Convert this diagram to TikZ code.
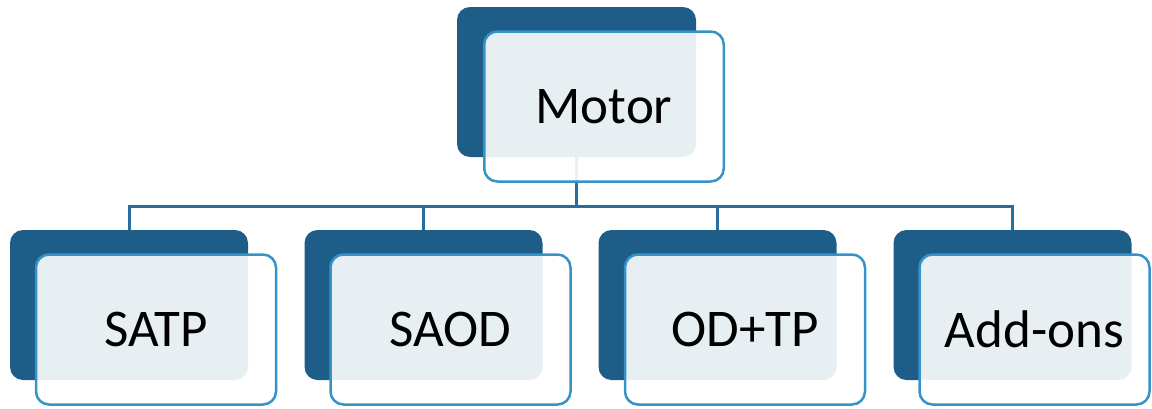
\documentclass[tikz,border=0pt]{standalone}
\usepackage{fontspec}
\setmainfont{Carlito}
\definecolor{backblue}{RGB}{30,93,136}
\definecolor{edgeblue}{RGB}{54,147,199}
\definecolor{linkblue}{RGB}{38,110,156}
\begin{document}
\begin{tikzpicture}[x=1pt,y=-1pt,
  backbox/.style={fill=backblue, rounded corners=13pt, inner sep=0pt,
    minimum width=#1, minimum height=150pt},
  backbox/.default=238pt,
  frontbox/.style={fill=white, fill opacity=0.9, text opacity=1,
    draw=edgeblue, line width=2.5pt, rounded corners=13pt, inner sep=0pt,
    minimum width=#1, minimum height=150pt,
    font=\fontsize{53}{62}\selectfont},
  frontbox/.default=240pt,
  conn/.style={draw=linkblue, line width=3pt}]
\useasboundingbox (0,0) rectangle (1152,408);

% back plates
\node[backbox=239pt] (mb) at (576.5,82) {};
\node[backbox] (c1b) at (129,305) {};
\node[backbox] (c2b) at (423.5,305) {};
\node[backbox] (c3b) at (717.5,305) {};
\node[backbox] (c4b) at (1012.5,305) {};

% tree connectors
\foreach \c in {c1b,c2b,c3b,c4b}
  \draw[conn] (mb.south) -- ++(0,49) -| (\c.north);

% labelled front cards
\node[frontbox=239.5pt] (m) at (604,106.5) {Motor};
\node[frontbox] (c1) at (156,329.5) {SATP};
\node[frontbox] (c2) at (450.5,329.5) {SAOD};
\node[frontbox] (c3) at (745,329.5) {OD+TP};
\node[frontbox=230pt] (c4) at (1034.5,329.5) {Add-ons};
\end{tikzpicture}
\end{document}
